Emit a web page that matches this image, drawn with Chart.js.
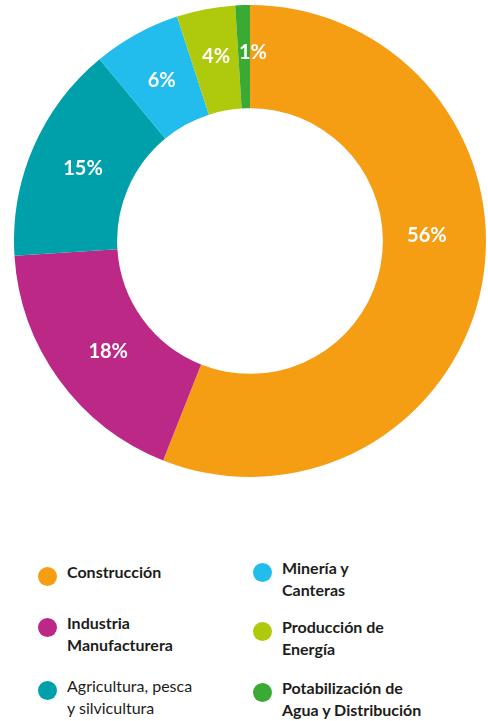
<!DOCTYPE html>
<html>
<head>
<meta charset="utf-8">
<script src="https://cdn.jsdelivr.net/npm/chart.js@4.4.1/dist/chart.umd.min.js"></script>
<style>
  html, body { margin: 0; padding: 0; background: #fff; }
  body { width: 488px; height: 721px; position: relative; overflow: hidden; font-family: Lato, "Open Sans", sans-serif; }
  #chartBox { position: absolute; left: 14px; top: 5px; width: 472px; height: 472px; }
  .legend-item { position: absolute; display: flex; align-items: flex-start; color: #1d1d1b; }
  .legend-item .dot { width: 19px; height: 19px; border-radius: 50%; flex: none; margin-top: 6px; }
  .legend-item .txt { font-size: 16px; font-weight: 700; line-height: 22px; margin-left: 10px; }
  .legend-item .txt.light { font-weight: 400; }
</style>
</head>
<body>
<div id="chartBox"><canvas id="sectorChart" width="472" height="472"></canvas></div>
<div id="legend"></div>
<script>
// Sector shares (%)
const sectors = [
  'Construcción',
  'Industria Manufacturera',
  'Agricultura, pesca y silvicultura',
  'Minería y Canteras',
  'Producción de Energía',
  'Potabilización de Agua y Distribución'
];
const shares = [56, 18, 15, 6, 4, 1];
const sectorColors = ['#F59E14', '#BB2885', '#00A0AA', '#22BDEC', '#AFCA0C', '#3AAA35'];

// Legend line breaks as printed
const legendLines = [
  ['Construcción'],
  ['Industria', 'Manufacturera'],
  ['Agricultura, pesca', 'y silvicultura'],
  ['Minería y', 'Canteras'],
  ['Producción de', 'Energía'],
  ['Potabilización de', 'Agua y Distribución']
];

// percentage labels inside each arc, nudged a little along the ring
const arcLabels = {
  id: 'arcLabels',
  afterDatasetsDraw(chart, args, opts) {
    const { ctx } = chart;
    const meta = chart.getDatasetMeta(0);
    ctx.save();
    ctx.fillStyle = '#fff';
    ctx.font = 'bold 20px Lato, "Open Sans", sans-serif';
    ctx.textAlign = 'center';
    ctx.textBaseline = 'middle';
    meta.data.forEach((arc, i) => {
      const p = arc.getProps(['x', 'y', 'startAngle', 'endAngle', 'innerRadius', 'outerRadius']);
      const mid = (p.startAngle + p.endAngle) / 2 + (opts.shift[i] || 0) * Math.PI / 180;
      const r = (p.innerRadius + p.outerRadius) / 2 + (opts.push[i] || 0);
      ctx.fillText(chart.data.datasets[0].data[i] + '%', p.x + Math.cos(mid) * r, p.y + Math.sin(mid) * r);
    });
    ctx.restore();
  }
};

new Chart(document.getElementById('sectorChart'), {
  type: 'doughnut',
  data: {
    labels: sectors,
    datasets: [{
      data: shares,
      backgroundColor: sectorColors,
      borderWidth: 0
    }]
  },
  options: {
    responsive: false,
    animation: false,
    cutout: '56.3%',
    layout: { padding: 0 },
    plugins: {
      legend: { display: false },
      tooltip: { enabled: false },
      arcLabels: {
        shift: [-12.7, -2, 0, 0, 0.4, 2.7],
        push: [-7.5, -4.5, -2.5, -1, 3.5, 4.5]
      }
    }
  },
  plugins: [arcLabels]
});

// two-column legend below the ring
const legendPos = [
  { x: 38, y: 561 }, { x: 38, y: 612 }, { x: 38, y: 675 },
  { x: 253, y: 557 }, { x: 253, y: 616 }, { x: 253, y: 677 }
];
const legendEl = document.getElementById('legend');
sectors.forEach((name, i) => {
  const item = document.createElement('div');
  item.className = 'legend-item';
  item.style.left = legendPos[i].x + 'px';
  item.style.top = legendPos[i].y + 'px';
  const dot = document.createElement('span');
  dot.className = 'dot';
  dot.style.background = sectorColors[i];
  const txt = document.createElement('span');
  txt.className = 'txt' + (i === 2 ? ' light' : '');
  txt.innerHTML = legendLines[i].join('<br>');
  item.appendChild(dot);
  item.appendChild(txt);
  legendEl.appendChild(item);
});
</script>
</body>
</html>
